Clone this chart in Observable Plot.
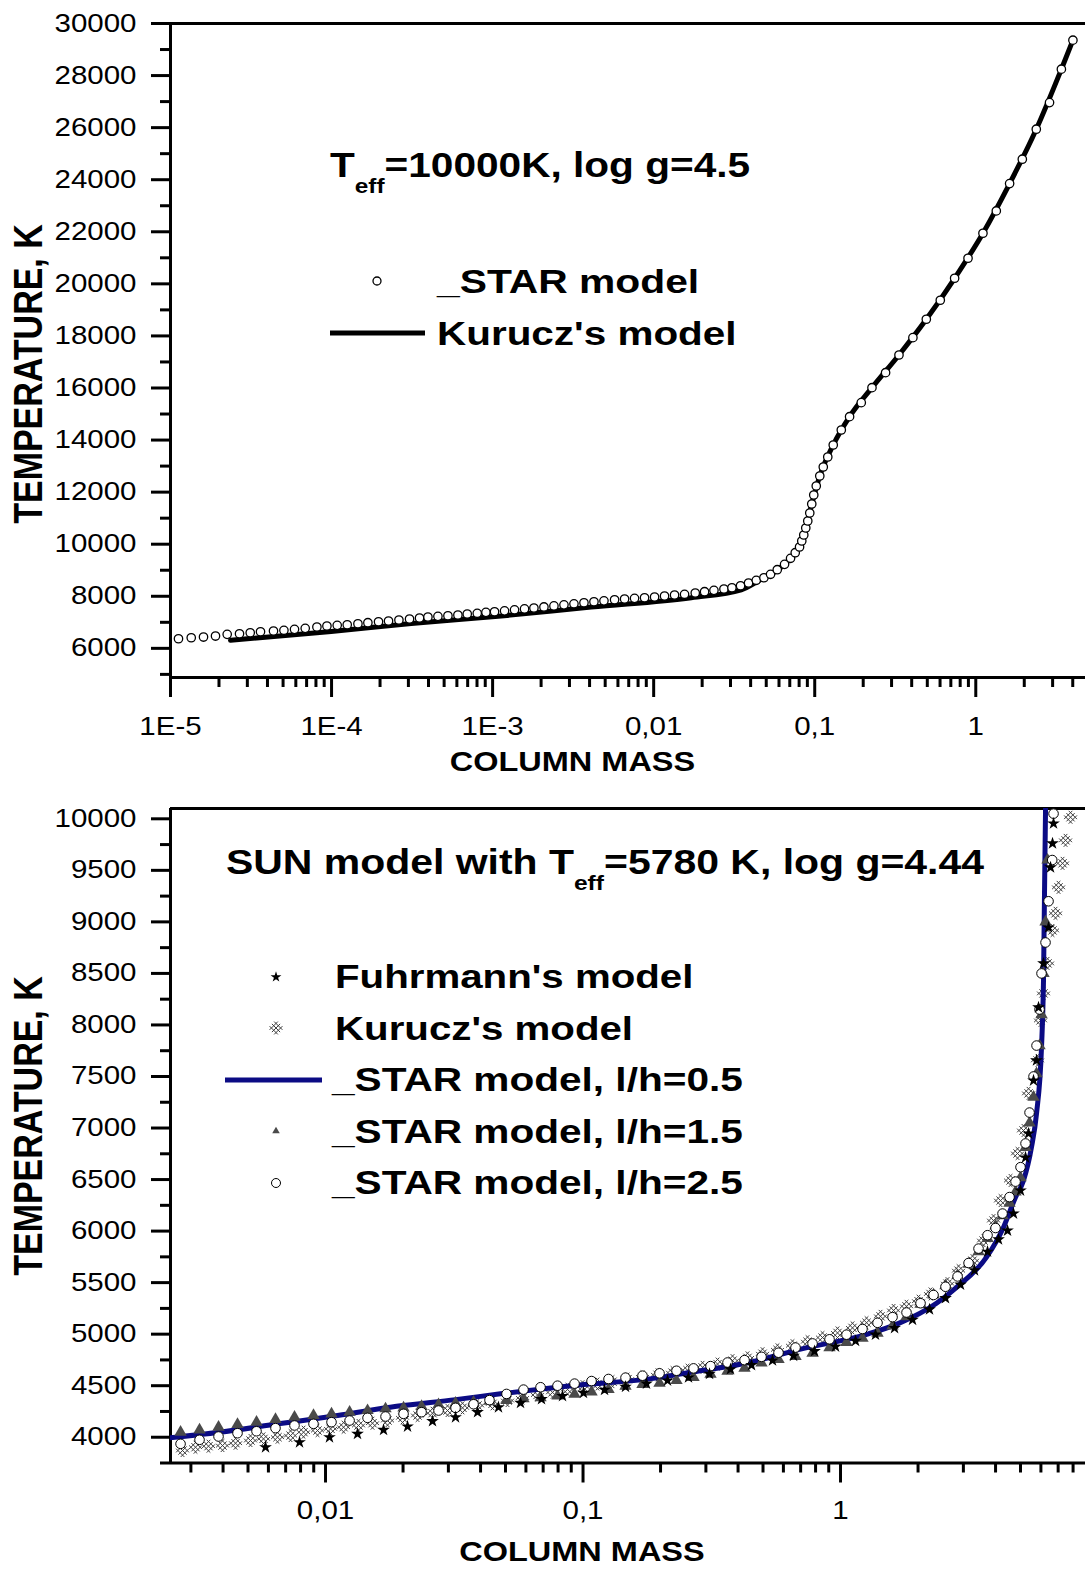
<!DOCTYPE html>
<html><head><meta charset="utf-8">
<script src="https://cdn.jsdelivr.net/npm/d3@7"></script>
<script src="https://cdn.jsdelivr.net/npm/@observablehq/plot@0.6"></script>
<style>
body{margin:0;background:#fff;}
#wrap{position:relative;width:1085px;height:1569px;overflow:hidden;background:#fff;}
#wrap > svg{position:absolute;left:0;}
</style></head><body><div id="wrap"></div>
<script>
// ---------- TOP PANEL DATA (Teff=10000K, log g=4.5) ----------
const topStarMass = [1.121e-5,1.345e-5,1.603e-5,1.903e-5,2.249e-5,2.682e-5,3.126e-5,3.621e-5,4.360e-5,5.061e-5,5.888e-5,6.862e-5,8.111e-5,9.359e-5,1.084e-4,1.251e-4,1.458e-4,1.681e-4,1.957e-4,2.258e-4,2.620e-4,3.049e-4,3.517e-4,3.966e-4,4.575e-4,5.279e-4,6.088e-4,6.957e-4,8.025e-4,9.089e-4,1.028e-3,1.186e-3,1.368e-3,1.578e-3,1.805e-3,2.083e-3,2.403e-3,2.773e-3,3.199e-3,3.691e-3,4.258e-3,4.913e-3,5.718e-3,6.597e-3,7.607e-3,8.777e-3,1.013e-2,1.168e-2,1.348e-2,1.555e-2,1.812e-2,2.070e-2,2.367e-2,2.731e-2,3.062e-2,3.463e-2,3.882e-2,4.335e-2,4.838e-2,5.318e-2,5.853e-2,6.497e-2,7.079e-2,7.568e-2,8.050e-2,8.310e-2,8.550e-2,8.799e-2,9.054e-2,9.316e-2,9.585e-2,9.863e-2,0.1022,0.1075,0.1130,0.1205,0.1303,0.1462,0.1646,0.1945,0.2267,0.2754,0.3335,0.407,0.493,0.602,0.739,0.895,1.108,1.341,1.622,1.945,2.375,2.87,3.40,4.01];
const topStarTemp = [6369,6407,6434,6473,6538,6561,6599,6638,6665,6692,6730,6768,6818,6857,6884,6907,6945,6984,7022,7049,7087,7126,7164,7203,7229,7252,7279,7318,7345,7383,7406,7440,7480,7515,7550,7590,7630,7670,7710,7750,7790,7825,7867,7894,7921,7944,7971,8009,8048,8075,8125,8175,8228,8278,8328,8405,8509,8613,8712,8843,9020,9227,9458,9673,9892,10122,10353,10622,10891,11198,11544,11890,12236,12620,12965,13350,13811,14387,14898,15436,16012,16588,17268,17933,18640,19370,20215,20984,21944,22801,23850,24787,25940,26962,28245,29359];
const topKuruczMass = [2.358e-5,9.95e-5,3.123e-4,1.131e-3,4.097e-3,1.712e-2,3.498e-2,4.460e-2,5.853e-2,7.05e-2,8.05e-2,8.8e-2,9.585e-2,0.1075,0.1303,0.1646,0.2267,0.3335,0.493,0.739,1.108,1.622,2.375,3.40,4.01];
const topKuruczTemp = [6307,6650,6950,7241,7587,7944,8250,8586,9000,9440,9892,10622,11544,12620,13811,14898,16012,17268,18640,20215,21944,23850,25940,28245,29359];

const topYTicks = [6000,8000,10000,12000,14000,16000,18000,20000,22000,24000,26000,28000,30000];
const topYTickLabels = ["6000","8000","10000","12000","14000","16000","18000","20000","22000","24000","26000","28000","30000"];
const topXTicks = [1e-5,1e-4,1e-3,0.01,0.1,1];
const topXTickLabels = ["1E-5","1E-4","1E-3","0,01","0,1","1"];

// ---------- BOTTOM PANEL DATA (Sun) ----------
const fuhrMass = [0.005848,0.007925,0.01036,0.01331,0.0168,0.02082,0.02603,0.03198,0.03893,0.04696,0.05718,0.06899,0.08324,0.1004,0.1212,0.1462,0.1764,0.2129,0.2568,0.3099,0.3739,0.4512,0.5444,0.6569,0.7925,0.9563,1.144,1.367,1.621,1.904,2.216,2.557,2.924,3.314,3.723,4.108,4.451,4.696,5.0,5.229,5.373,5.617,5.77,5.874,6.141,6.424,6.54,6.657,6.717];
const fuhrTemp = [3903,3951,4000,4032,4071,4104,4156,4194,4243,4291,4333,4370,4400,4430,4460,4490,4520,4550,4580,4615,4660,4700,4745,4790,4835,4880,4935,4995,5060,5140,5240,5350,5480,5620,5800,5920,6005,6170,6394,6714,6947,7461,7656,8170,8597,8946,9529,9761,9955];

const kurMass = [0.002784,0.003127,0.003512,0.003981,0.004472,0.005113,0.005743,0.00651,0.007313,0.008215,0.009309,0.01046,0.01175,0.01343,0.01522,0.01741,0.01991,0.02277,0.02603,0.02977,0.03404,0.03893,0.04451,0.0509,0.05821,0.06657,0.07613,0.08705,0.09956,0.1138,0.1302,0.1489,0.1702,0.1947,0.2226,0.2546,0.2912,0.333,0.3807,0.4353,0.4979,0.5692,0.651,0.7444,0.8514,0.9734,1.113,1.262,1.43,1.607,1.804,2.009,2.236,2.603,2.873,3.255,3.593,3.928,4.182,4.574,4.868,5.136,5.373,5.821,5.979,6.141,6.367,6.657,6.839,7.025,7.281,7.479,7.82];
const kurTemp = [3871,3903,3913,3919,3942,3968,3984,4000,4016,4049,4065,4081,4097,4114,4136,4162,4188,4211,4233,4259,4285,4308,4324,4356,4381,4410,4435,4464,4490,4516,4539,4564,4585,4606,4627,4650,4678,4710,4743,4770,4810,4848,4888,4927,4967,5012,5061,5111,5173,5230,5270,5320,5390,5490,5616,5713,5908,6102,6296,6491,6753,6976,7336,7656,8044,8306,8597,8917,9083,9335,9568,9791,10015];

const star05Mass = [0.002478,0.003876,0.006569,0.01113,0.01887,0.03198,0.04781,0.09186,0.1813,0.2638,0.4472,0.687,1.284,1.665,2.359,2.822,3.69,4.296,4.782,5.136,5.516,5.77,6.033,6.141,6.253,6.31];
const star05Temp = [3995,4049,4130,4210,4300,4365,4421,4502,4566,4631,4728,4850,5003,5100,5300,5455,5747,6038,6329,6491,6814,7141,7784,8431,10080,10300];

const star15Mass = [0.002735,0.003241,0.003841,0.004552,0.005395,0.006393,0.007577,0.008981,0.01055,0.0124,0.01456,0.0171,0.02009,0.0236,0.02747,0.03198,0.03757,0.04333,0.05045,0.05873,0.06839,0.07961,0.09269,0.1079,0.1256,0.1462,0.1702,0.1982,0.2307,0.2686,0.3127,0.364,0.4238,0.4933,0.5743,0.6686,0.7785,0.9063,1.055,1.217,1.392,1.592,1.804,2.045,2.297,2.557,2.848,3.142,3.435,3.723,3.999,4.257,4.532,4.782,5.0,5.229,5.42,5.617,5.77,5.926,6.033,6.141,6.253,6.367];
const star15Temp = [4049,4072,4097,4124,4146,4172,4194,4211,4227,4243,4259,4276,4285,4298,4317,4330,4340,4350,4358,4373,4385,4400,4418,4440,4465,4495,4512,4525,4550,4580,4612,4640,4670,4720,4755,4785,4815,4870,4920,4960,5010,5080,5170,5290,5380,5470,5570,5680,5800,5930,6050,6150,6270,6380,6518,6811,7050,7300,7528,7800,8100,8500,9000,9600];

const star25Mass = [0.002735,0.003241,0.003841,0.004552,0.005395,0.006393,0.007577,0.008981,0.01055,0.0124,0.01456,0.0171,0.02009,0.0236,0.02747,0.03198,0.03757,0.04333,0.05045,0.05873,0.06839,0.07961,0.09269,0.1079,0.1256,0.1462,0.1702,0.1982,0.2307,0.2686,0.3127,0.364,0.4238,0.4933,0.5743,0.6686,0.7785,0.9063,1.055,1.217,1.392,1.592,1.804,2.045,2.297,2.557,2.848,3.142,3.435,3.723,3.999,4.257,4.532,4.782,5.0,5.229,5.42,5.617,5.77,5.926,6.033,6.253,6.424,6.64,6.717];
const star25Temp = [3936,3975,4007,4039,4058,4088,4114,4130,4146,4162,4188,4201,4227,4243,4259,4285,4320,4360,4420,4462,4485,4500,4520,4545,4565,4578,4597,4620,4645,4668,4690,4725,4748,4780,4820,4870,4910,4950,4995,5050,5110,5165,5210,5300,5380,5460,5560,5690,5830,5960,6030,6170,6330,6480,6620,6850,7150,7500,7800,8150,8500,8800,9200,9600,10050];

const botYTicks = [4000,4500,5000,5500,6000,6500,7000,7500,8000,8500,9000,9500,10000];
const botYTickLabels = ["4000","4500","5000","5500","6000","6500","7000","7500","8000","8500","9000","9500","10000"];
const botXTicks = [0.01,0.1,1];
const botXTickLabels = ["0,01","0,1","1"];

// ---------- helpers ----------
const FONT = '"Liberation Sans", Arial, Helvetica, sans-serif';
const SX = 1.18; // horizontal stretch of the original artwork's lettering
const zip = (xs, ys) => xs.map((x, i) => ({mass: x, temp: ys[i]}));
function minorLog(lo, hi) {
  const out = [];
  for (let e = Math.floor(Math.log10(lo)); e <= Math.ceil(Math.log10(hi)); e++) {
    for (let m = 2; m <= 9; m++) { const v = m * Math.pow(10, e); if (v > lo && v < hi) out.push(v); }
  }
  return out;
}
function minorLin(lo, hi, step, skip) {
  const out = [];
  for (let v = lo; v <= hi; v += step) if (v % skip !== 0) out.push(v);
  return out;
}
const kuruczSymbol = {
  draw(ctx, size) {
    const r = Math.sqrt(size / Math.PI), h = r * 0.5, e = r * 0.4, k = Math.SQRT1_2;
    const P = (u, v) => [(u + v) * k, (u - v) * k];
    for (const c of [-h, 0, h]) {
      let a = P(-h - e, c), b = P(h + e, c);
      ctx.moveTo(a[0], a[1]); ctx.lineTo(b[0], b[1]);
      a = P(c, -h - e); b = P(c, h + e);
      ctx.moveTo(a[0], a[1]); ctx.lineTo(b[0], b[1]);
    }
  }
};
function stretchTicks(svg) {
  svg.querySelectorAll('g[aria-label$="tick label"] text').forEach(t => {
    const tr = t.getAttribute("transform") || "";
    t.setAttribute("transform", tr + ` scale(${SX},1)`);
  });
}
const axisStyle = {strokeWidth: 3, label: null};

// ---------- TOP PLOT ----------
const TOPX = [1e-5, 4.8], TOPY = [4880, 30000];
const topPlot = Plot.plot({
  width: 1085, height: 790,
  marginLeft: 170, marginRight: 0, marginTop: 23, marginBottom: 113,
  x: {type: "log", domain: TOPX},
  y: {domain: TOPY},
  style: {fontFamily: FONT, fontSize: "25px", color: "#000", background: "transparent", overflow: "visible"},
  marks: [
    Plot.axisY({...axisStyle, ticks: topYTicks, tickSize: 19, tickPadding: 15, fontSize: 25, tickFormat: d => topYTickLabels[topYTicks.indexOf(d)]}),
    Plot.axisY({...axisStyle, ticks: minorLin(5000, 29000, 1000, 2000), tickSize: 10, tickFormat: () => ""}),
    Plot.axisX({...axisStyle, ticks: topXTicks, tickSize: 20, tickPadding: 20, fontSize: 25, tickFormat: d => topXTickLabels[topXTicks.findIndex(t => Math.abs(t - d) / t < 1e-9)]}),
    Plot.axisX({...axisStyle, ticks: minorLog(TOPX[0], TOPX[1]), tickSize: 10, tickFormat: () => ""}),
    Plot.ruleY([TOPY[0], TOPY[1]], {strokeWidth: 3}),
    Plot.ruleX([TOPX[0]], {strokeWidth: 3}),
    Plot.line(zip(topKuruczMass, topKuruczTemp), {x: "mass", y: "temp", stroke: "#000", strokeWidth: 5, curve: "monotone-x", clip: true}),
    Plot.dot(zip(topStarMass, topStarTemp), {x: "mass", y: "temp", r: 4.2, fill: "#fff", stroke: "#000", strokeWidth: 1.3, clip: true})
  ]
});
topPlot.style.top = "0px";
stretchTicks(topPlot);

// ---------- BOTTOM PLOT ----------
const BOTX = [0.0025, 8.94], BOTY = [3750, 10100];
const botPlot = Plot.plot({
  width: 1085, height: 779,
  marginLeft: 170, marginRight: 0, marginTop: 18, marginBottom: 106.5,
  x: {type: "log", domain: BOTX},
  y: {domain: BOTY},
  style: {fontFamily: FONT, fontSize: "25px", color: "#000", background: "transparent", overflow: "visible"},
  marks: [
    Plot.axisY({...axisStyle, ticks: botYTicks, tickSize: 19, tickPadding: 15, fontSize: 25, tickFormat: d => botYTickLabels[botYTicks.indexOf(d)]}),
    Plot.axisY({...axisStyle, ticks: minorLin(3750, 9750, 250, 500), tickSize: 10, tickFormat: () => ""}),
    Plot.axisX({...axisStyle, ticks: botXTicks, tickSize: 20, tickPadding: 18, fontSize: 25, tickFormat: d => botXTickLabels[botXTicks.findIndex(t => Math.abs(t - d) / t < 1e-9)]}),
    Plot.axisX({...axisStyle, ticks: minorLog(BOTX[0], BOTX[1]), tickSize: 10, tickFormat: () => ""}),
    Plot.ruleY([BOTY[0], BOTY[1]], {strokeWidth: 3}),
    Plot.ruleX([BOTX[0]], {strokeWidth: 3}),
    Plot.dot(zip(kurMass, kurTemp), {x: "mass", y: "temp", r: 6.5, symbol: kuruczSymbol, fill: "none", stroke: "#3c3c3c", strokeWidth: 1, clip: true}),
    Plot.line(zip(star05Mass, star05Temp), {x: "mass", y: "temp", stroke: "#0b0b84", strokeWidth: 5, curve: "monotone-x", clip: true}),
    Plot.dot(zip(star15Mass, star15Temp), {x: "mass", y: "temp", r: 4.6, symbol: "triangle", fill: "#4a4a4a", stroke: "none", clip: true}),
    Plot.dot(zip(star25Mass, star25Temp), {x: "mass", y: "temp", r: 4.8, fill: "#fff", stroke: "#000", strokeWidth: 1, clip: true}),
    Plot.dot(zip(fuhrMass, fuhrTemp), {x: "mass", y: "temp", r: 4, symbol: "star", fill: "#000", stroke: "none", clip: true})
  ]
});
botPlot.style.top = "790px";
stretchTicks(botPlot);

const wrap = document.getElementById("wrap");
wrap.appendChild(topPlot);
wrap.appendChild(botPlot);

// ---------- OVERLAY: titles, legends, axis titles ----------
const sym = (type, r) => d3.symbol(type, r * r * Math.PI)();
const B = `font-family='${FONT.replace(/"/g, "")}' font-weight='bold' fill='#000'`;
function T(x, y, s, size, anchor = "start", sx = SX) {
  return `<text ${B} font-size='${size}' text-anchor='${anchor}' transform='translate(${x},${y}) scale(${sx},1)'>${s}</text>`;
}
function TV(x, y, s, size) {
  return `<text ${B} font-size='${size}' text-anchor='middle' transform='translate(${x},${y}) rotate(-90) scale(1,${SX})'>${s}</text>`;
}
const kurPath = (() => { const p = d3.path(); kuruczSymbol.draw(p, 42 * Math.PI); return p.toString(); })();
const overlay = `
<svg xmlns='http://www.w3.org/2000/svg' width='1085' height='1569' style='top:0;pointer-events:none'>
  <text ${B} font-size='35' transform='translate(330,177) scale(1.16,1)'>T<tspan font-size='21' dy='16'>eff</tspan><tspan dy='-16'>=10000K, log g=4.5</tspan></text>
  <circle cx='377' cy='281' r='4' fill='#fff' stroke='#000' stroke-width='1.3'/>
  ${T(437, 293, "_STAR model", 34, "start", 1.2)}
  <line x1='330' x2='425' y1='333' y2='333' stroke='#000' stroke-width='5'/>
  ${T(437, 345, "Kurucz's model", 34, "start", 1.19)}
  ${T(572.5, 770.5, "COLUMN MASS", 28, "middle", 1.16)}
  ${TV(42, 374, "TEMPERATURE, K", 34)}

  <text ${B} font-size='35' transform='translate(226,874) scale(1.17,1)'>SUN model with T<tspan font-size='21' dy='16'>eff</tspan><tspan dy='-16'>=5780 K, log g=4.44</tspan></text>
  <path d='${sym(d3.symbolStar, 3.4)}' transform='translate(276,977)' fill='#000'/>
  ${T(335, 988, "Fuhrmann's model", 33, "start", 1.22)}
  <path d='${kurPath}' transform='translate(276,1028)' fill='none' stroke='#3c3c3c' stroke-width='1'/>
  ${T(335, 1040, "Kurucz's model", 33, "start", 1.22)}
  <line x1='225' x2='322' y1='1080' y2='1080' stroke='#0b0b84' stroke-width='5'/>
  ${T(332, 1091, "_STAR model, l/h=0.5", 33, "start", 1.23)}
  <path d='${sym(d3.symbolTriangle, 2.8)}' transform='translate(276,1131)' fill='#4a4a4a'/>
  ${T(332, 1143, "_STAR model, l/h=1.5", 33, "start", 1.23)}
  <circle cx='276' cy='1183' r='4.5' fill='#fff' stroke='#000' stroke-width='1'/>
  ${T(332, 1194, "_STAR model, l/h=2.5", 33, "start", 1.23)}
  ${T(582, 1561, "COLUMN MASS", 28, "middle", 1.16)}
  ${TV(42, 1126, "TEMPERATURE, K", 34)}
</svg>`;
wrap.insertAdjacentHTML("beforeend", overlay);
</script></body></html>
